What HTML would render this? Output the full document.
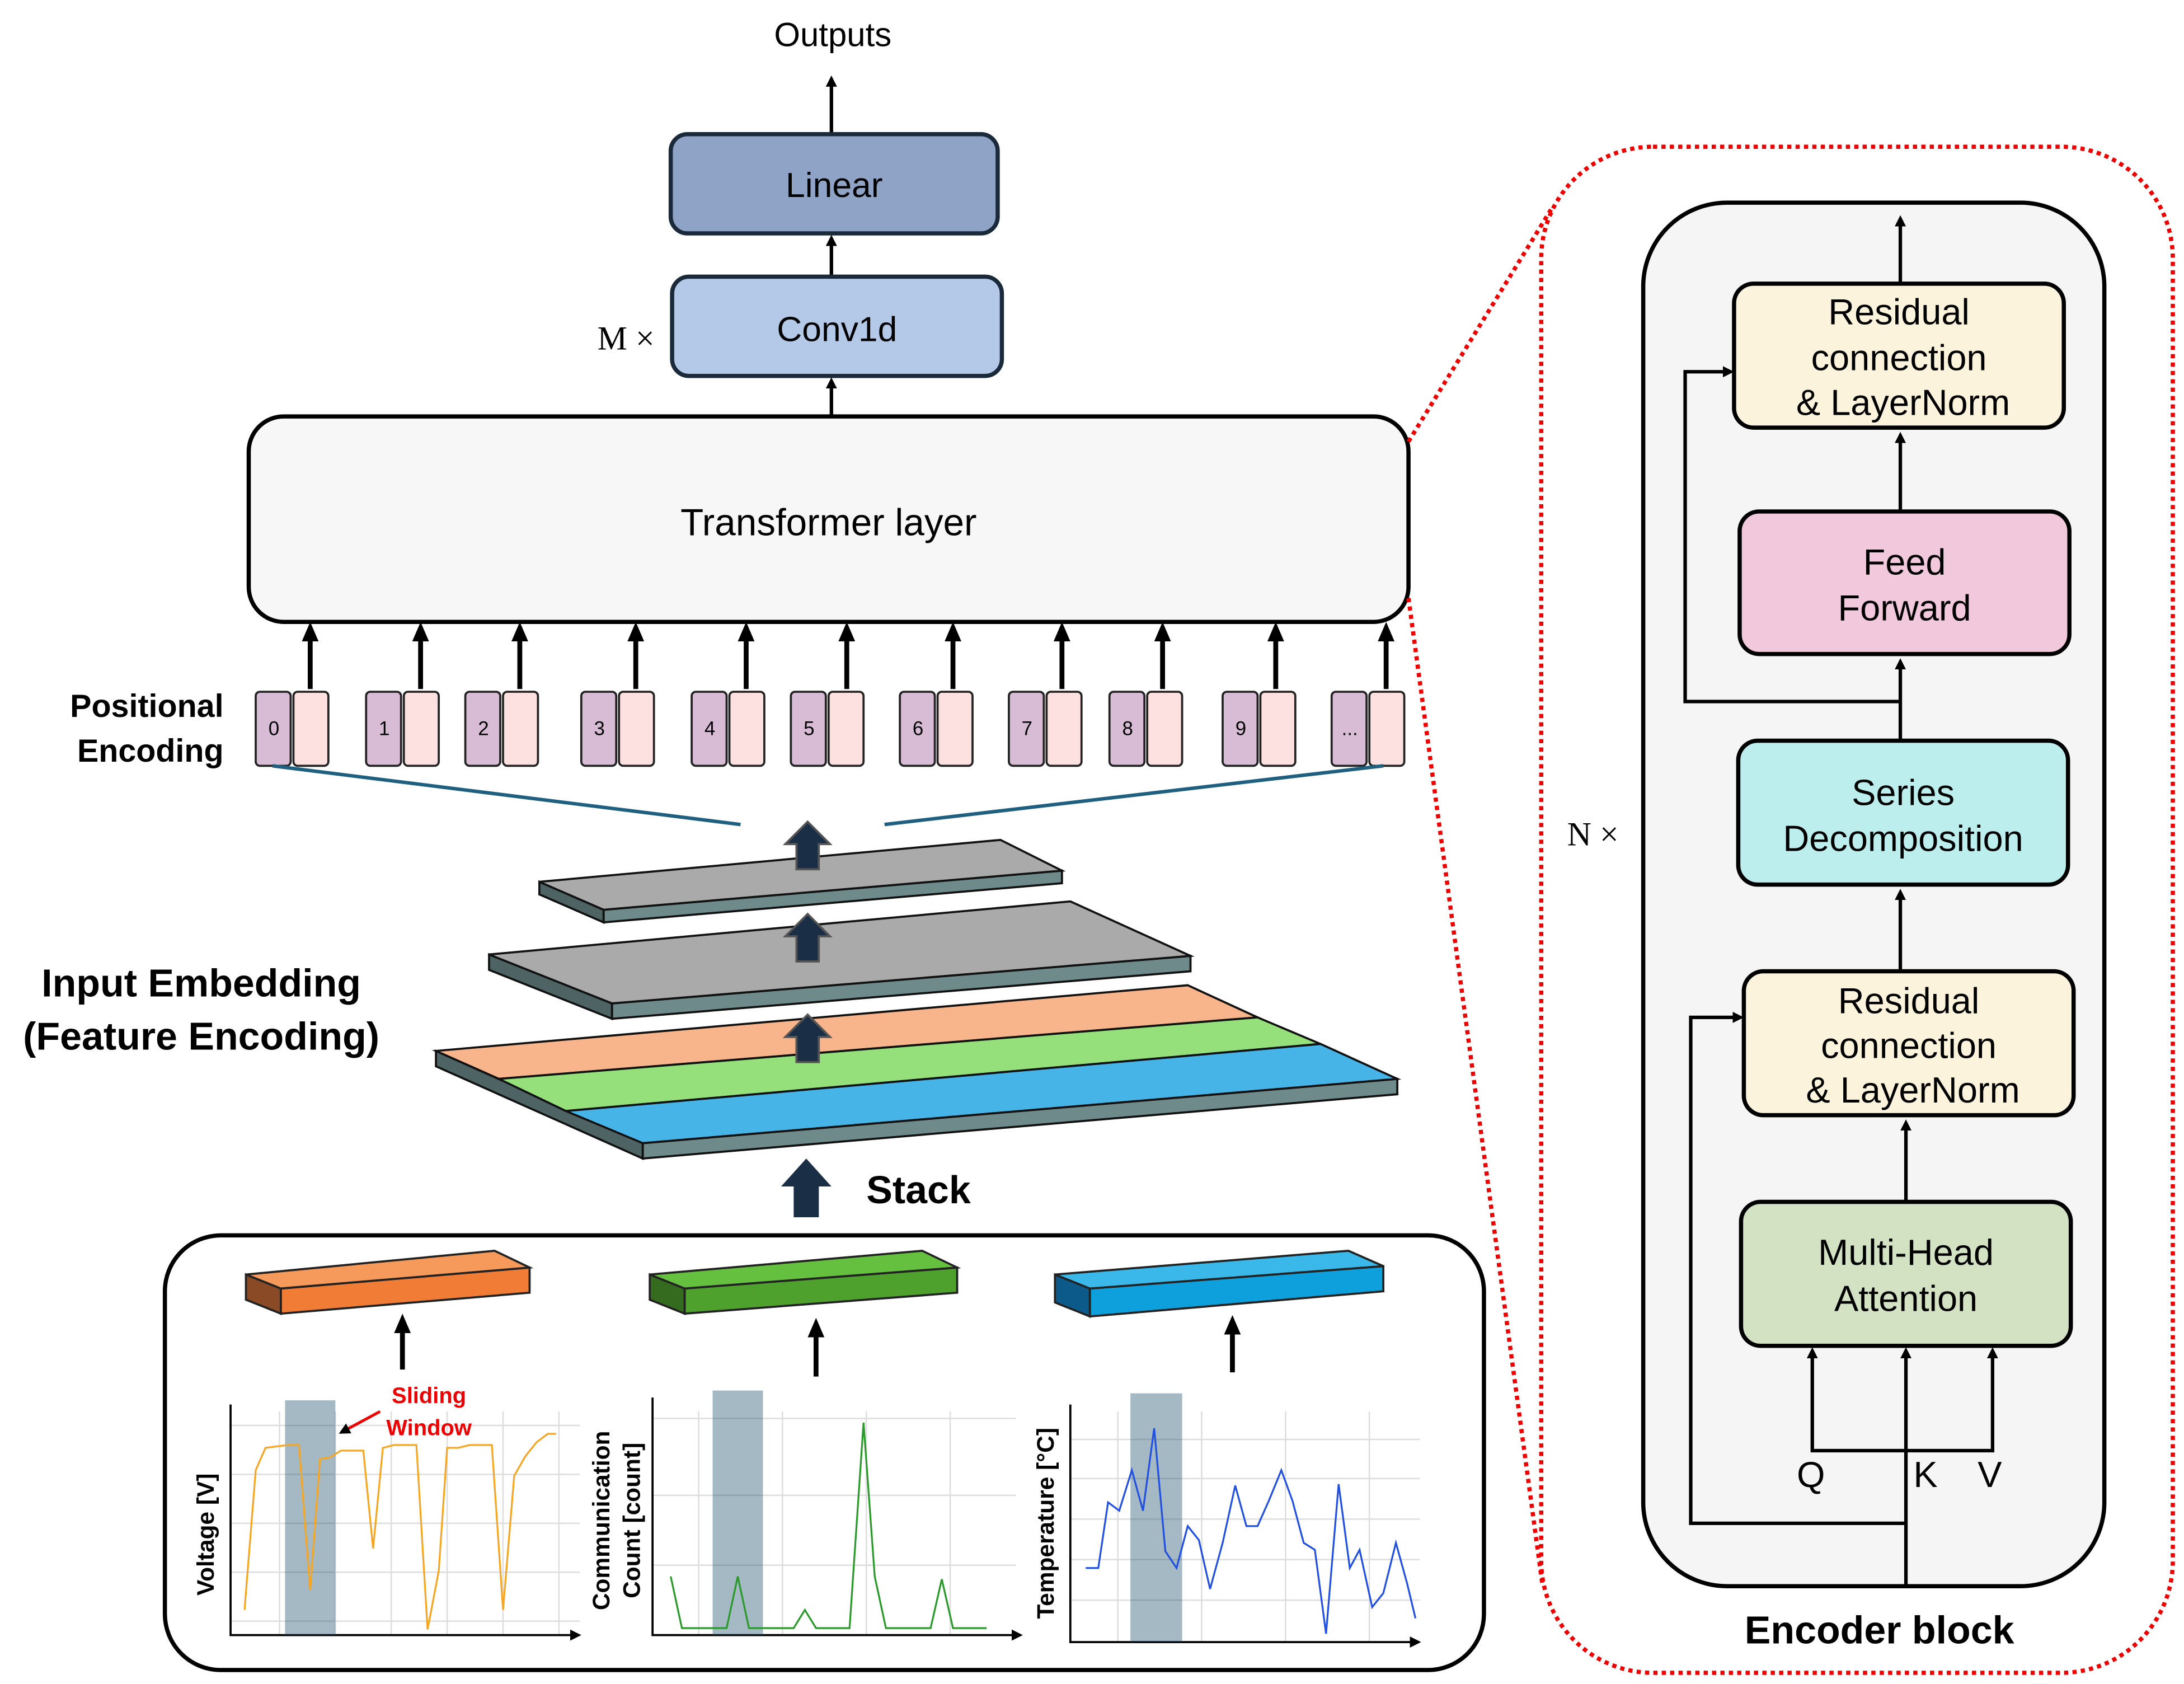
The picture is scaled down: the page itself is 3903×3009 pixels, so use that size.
<!DOCTYPE html>
<html><head><meta charset="utf-8"><style>html,body{margin:0;padding:0;background:#fff}svg{display:block}</style></head>
<body>
<svg width="3903" height="3009" viewBox="0 0 1563 1205" xmlns="http://www.w3.org/2000/svg" font-family="Liberation Sans, DejaVu Sans, sans-serif">
<defs>
<marker id="a" markerWidth="8" markerHeight="8" refX="4" refY="4" orient="auto" markerUnits="userSpaceOnUse"><path d="M0,0 L8,4 L0,8 z" fill="#000"/></marker>
<marker id="b" markerWidth="14" markerHeight="14" refX="7" refY="7" orient="auto" markerUnits="userSpaceOnUse"><path d="M0,1 L14,7 L0,13 z" fill="#000"/></marker>
</defs>
<rect width="1563" height="1205" fill="#fff"/>
<!-- top stack -->
<text x="596" y="33" font-size="24" text-anchor="middle">Outputs</text>
<line x1="595" y1="95" x2="595" y2="58" stroke="#000" stroke-width="2.5" marker-end="url(#a)"/>
<rect x="480" y="96" width="234" height="71" rx="12" fill="#8ea3c6" stroke="#1a2a3a" stroke-width="3"/>
<text x="597" y="141" font-size="25" text-anchor="middle">Linear</text>
<line x1="595" y1="197" x2="595" y2="172" stroke="#000" stroke-width="2.5" marker-end="url(#a)"/>
<rect x="481" y="198" width="236" height="71" rx="12" fill="#b4c8e8" stroke="#1a2a3a" stroke-width="3"/>
<text x="599" y="244" font-size="25" text-anchor="middle">Conv1d</text>
<text x="448" y="250" font-size="24" text-anchor="middle" font-family="Liberation Serif, serif">M ×</text>
<line x1="595" y1="298" x2="595" y2="274" stroke="#000" stroke-width="2.5" marker-end="url(#a)"/>
<rect x="178" y="298" width="830" height="147" rx="25" fill="#f7f7f7" stroke="#000" stroke-width="3"/>
<text x="593" y="383" font-size="27" text-anchor="middle">Transformer layer</text>
<!-- positional -->
<text x="160" y="513" font-size="23" font-weight="bold" text-anchor="end">Positional</text>
<text x="160" y="545" font-size="23" font-weight="bold" text-anchor="end">Encoding</text>
<g stroke="#222" stroke-width="1.5">
<rect x="183" y="495" width="25" height="53" rx="3" fill="#d8bcd6"/><rect x="210" y="495" width="25" height="53" rx="3" fill="#fde0e0"/>
<rect x="262" y="495" width="25" height="53" rx="3" fill="#d8bcd6"/><rect x="289" y="495" width="25" height="53" rx="3" fill="#fde0e0"/>
<rect x="333" y="495" width="25" height="53" rx="3" fill="#d8bcd6"/><rect x="360" y="495" width="25" height="53" rx="3" fill="#fde0e0"/>
<rect x="416" y="495" width="25" height="53" rx="3" fill="#d8bcd6"/><rect x="443" y="495" width="25" height="53" rx="3" fill="#fde0e0"/>
<rect x="495" y="495" width="25" height="53" rx="3" fill="#d8bcd6"/><rect x="522" y="495" width="25" height="53" rx="3" fill="#fde0e0"/>
<rect x="566" y="495" width="25" height="53" rx="3" fill="#d8bcd6"/><rect x="593" y="495" width="25" height="53" rx="3" fill="#fde0e0"/>
<rect x="644" y="495" width="25" height="53" rx="3" fill="#d8bcd6"/><rect x="671" y="495" width="25" height="53" rx="3" fill="#fde0e0"/>
<rect x="722" y="495" width="25" height="53" rx="3" fill="#d8bcd6"/><rect x="749" y="495" width="25" height="53" rx="3" fill="#fde0e0"/>
<rect x="794" y="495" width="25" height="53" rx="3" fill="#d8bcd6"/><rect x="821" y="495" width="25" height="53" rx="3" fill="#fde0e0"/>
<rect x="875" y="495" width="25" height="53" rx="3" fill="#d8bcd6"/><rect x="902" y="495" width="25" height="53" rx="3" fill="#fde0e0"/>
<rect x="953" y="495" width="25" height="53" rx="3" fill="#d8bcd6"/><rect x="980" y="495" width="25" height="53" rx="3" fill="#fde0e0"/>
</g>
<g font-size="14" text-anchor="middle">
<text x="196" y="526">0</text><text x="275" y="526">1</text><text x="346" y="526">2</text><text x="429" y="526">3</text><text x="508" y="526">4</text><text x="579" y="526">5</text><text x="657" y="526">6</text><text x="735" y="526">7</text><text x="807" y="526">8</text><text x="888" y="526">9</text><text x="966" y="526">...</text>
</g>
<g stroke="#000" stroke-width="3.5" marker-end="url(#b)">
<line x1="222" y1="493" x2="222" y2="452"/><line x1="301" y1="493" x2="301" y2="452"/><line x1="372" y1="493" x2="372" y2="452"/><line x1="455" y1="493" x2="455" y2="452"/><line x1="534" y1="493" x2="534" y2="452"/><line x1="606" y1="493" x2="606" y2="452"/><line x1="682" y1="493" x2="682" y2="452"/><line x1="760" y1="493" x2="760" y2="452"/><line x1="832" y1="493" x2="832" y2="452"/><line x1="913" y1="493" x2="913" y2="452"/><line x1="992" y1="493" x2="992" y2="452"/>
</g>
<line x1="195" y1="548" x2="530" y2="590" stroke="#1f5f80" stroke-width="2.5"/>
<line x1="633" y1="590" x2="990" y2="548" stroke="#1f5f80" stroke-width="2.5"/>
<!-- slabs -->
<g stroke="#111" stroke-width="1.5">
<polygon points="386,631 432,651 432,660 386,640" fill="#4e6464"/>
<polygon points="432,651 760,623 760,632 432,660" fill="#6e8a8a"/>
<polygon points="386,631 716,601 760,623 432,651" fill="#aaaaaa"/>
<polygon points="350,683 438,718 438,729 350,694" fill="#4e6464"/>
<polygon points="438,718 852,684 852,695 438,729" fill="#6e8a8a"/>
<polygon points="350,683 766,645 852,684 438,718" fill="#aaaaaa"/>
<polygon points="312,752 460,818 460,829 312,763" fill="#4e6464"/>
<polygon points="460,818 1000,772 1000,783 460,829" fill="#6e8a8a"/>
<polygon points="312,752 850,705 900,728 357,772" fill="#f8b48a"/>
<polygon points="357,772 900,728 945,747 405,795" fill="#95e07a"/>
<polygon points="405,795 945,747 1000,772 460,818" fill="#47b4e8"/>
</g>
<g fill="#1a2e45" stroke="#555" stroke-width="1.5">
<path d="M570,622 v-18 h-8 l16,-16 l16,16 h-8 v18 z"/>
<path d="M570,688 v-18 h-8 l16,-16 l16,16 h-8 v18 z"/>
<path d="M570,760 v-18 h-8 l16,-16 l16,16 h-8 v18 z"/>
</g>
<path d="M568,871 v-22 h-9 l18,-20 l18,20 h-9 v22 z" fill="#1a2e45"/>
<text x="620" y="861" font-size="28" font-weight="bold">Stack</text>
<text x="144" y="713" font-size="28" font-weight="bold" text-anchor="middle">Input Embedding</text>
<text x="144" y="751" font-size="28" font-weight="bold" text-anchor="middle">(Feature Encoding)</text>
<!-- bottom panel -->
<rect x="118" y="884" width="944" height="311" rx="40" fill="#fff" stroke="#000" stroke-width="3"/>
<g stroke="#222" stroke-width="1.5">
<polygon points="176,912 201,922 201,940 176,930" fill="#8a4a25"/><polygon points="201,922 379,907 379,925 201,940" fill="#f07c35"/><polygon points="176,912 354,895 379,907 201,922" fill="#f59a5a"/>
<polygon points="465,912 490,922 490,940 465,930" fill="#356b1f"/><polygon points="490,922 685,907 685,925 490,940" fill="#4ea12c"/><polygon points="465,912 660,895 685,907 490,922" fill="#66c040"/>
<polygon points="755,912 780,922 780,942 755,932" fill="#0c5a8a"/><polygon points="780,922 990,906 990,924 780,942" fill="#0ea0dc"/><polygon points="755,912 965,895 990,906 780,922" fill="#3ab8ea"/>
</g>
<g stroke="#000" stroke-width="3.5" marker-end="url(#b)">
<line x1="288" y1="980" x2="288" y2="947"/><line x1="584" y1="985" x2="584" y2="950"/><line x1="882" y1="982" x2="882" y2="948"/>
</g>
<!-- charts -->
<g stroke="#ddd" stroke-width="1">
<path d="M165,1020h250M165,1055h250M165,1090h250M165,1125h250M165,1160h250M200,1010v160M240,1010v160M280,1010v160M320,1010v160M360,1010v160M400,1010v160"/>
<path d="M467,1015h260M467,1070h260M467,1120h260M500,1010v160M560,1010v160M620,1010v160M680,1010v160"/>
<path d="M766,1030h250M766,1058h250M766,1087h250M766,1116h250M766,1145h250M800,1010v165M860,1010v165M920,1010v165M980,1010v165"/>
</g>
<g stroke="#000" stroke-width="1.5" fill="none">
<path d="M165,1005 V1170 H412" marker-end="url(#a)"/>
<path d="M467,1000 V1170 H728" marker-end="url(#a)"/>
<path d="M766,1005 V1175 H1013" marker-end="url(#a)"/>
</g>
<rect x="204" y="1002" width="36" height="168" fill="#1d4f6e" opacity="0.4"/>
<rect x="510" y="995" width="36" height="175" fill="#1d4f6e" opacity="0.4"/>
<rect x="809" y="997" width="37" height="178" fill="#1d4f6e" opacity="0.4"/>
<polyline fill="none" stroke="#f5a623" stroke-width="1.3" points="175,1152 183,1052 190,1036 198,1035 206,1034 214,1034 222,1138 229,1044 236,1043 244,1038 252,1038 260,1038 267,1108 274,1036 282,1034 290,1034 298,1034 306,1166 314,1124 320,1036 328,1036 336,1034 344,1034 352,1034 360,1152 368,1056 376,1042 384,1032 392,1026 398,1026"/>
<polyline fill="none" stroke="#2a9a2a" stroke-width="1.3" points="480,1128 488,1165 496,1165 504,1165 512,1165 520,1165 528,1128 536,1165 544,1165 552,1165 560,1165 568,1165 576,1152 584,1165 592,1165 600,1165 608,1165 618,1018 626,1128 634,1165 642,1165 650,1165 658,1165 666,1165 674,1130 682,1165 690,1165 698,1165 706,1165"/>
<polyline fill="none" stroke="#2250e0" stroke-width="1.3" points="777,1122 786,1122 793,1075 801,1081 810,1052 818,1081 826,1022 834,1110 842,1122 850,1092 858,1102 866,1137 875,1104 884,1063 892,1092 900,1092 908,1074 917,1052 925,1074 933,1104 941,1109 949,1169 958,1062 966,1122 973,1109 982,1150 990,1140 999,1104 1007,1133 1013,1158"/>
<g font-size="17" font-weight="bold">
<text transform="translate(153,1098) rotate(-90)" text-anchor="middle">Voltage [V]</text>
<text transform="translate(436,1088) rotate(-90)" text-anchor="middle">Communication</text>
<text transform="translate(458,1088) rotate(-90)" text-anchor="middle">Count [count]</text>
<text transform="translate(754,1090) rotate(-90)" text-anchor="middle">Temperature [°C]</text>
</g>
<text x="307" y="1004" font-size="16" font-weight="bold" fill="#e00" text-anchor="middle">Sliding</text>
<text x="307" y="1027" font-size="16" font-weight="bold" fill="#e00" text-anchor="middle">Window</text>
<line x1="272" y1="1010" x2="246" y2="1024" stroke="#e00" stroke-width="2" marker-end="url(#a)"/>
<!-- encoder -->
<rect x="1103" y="105" width="452" height="1092" rx="80" fill="none" stroke="#e00" stroke-width="3" stroke-dasharray="3,3"/>
<line x1="1008" y1="316" x2="1110" y2="150" stroke="#e00" stroke-width="3" stroke-dasharray="3,3"/>
<line x1="1008" y1="428" x2="1104" y2="1135" stroke="#e00" stroke-width="3" stroke-dasharray="3,3"/>
<rect x="1176" y="145" width="330" height="990" rx="60" fill="#f5f5f5" stroke="#000" stroke-width="3"/>
<text x="1140" y="605" font-size="24" text-anchor="middle" font-family="Liberation Serif, serif">N ×</text>
<text x="1345" y="1176" font-size="28" font-weight="bold" text-anchor="middle">Encoder block</text>
<g stroke="#000" stroke-width="3">
<rect x="1241" y="203" width="236" height="103" rx="14" fill="#fbf3dc"/>
<rect x="1245" y="366" width="236" height="102" rx="14" fill="#f2c9dc"/>
<rect x="1244" y="530" width="236" height="103" rx="14" fill="#bdeeee"/>
<rect x="1248" y="695" width="236" height="103" rx="14" fill="#fbf3dc"/>
<rect x="1246" y="860" width="236" height="103" rx="14" fill="#d3e2c3"/>
</g>
<g font-size="26" text-anchor="middle">
<text x="1359" y="232">Residual</text><text x="1359" y="265">connection</text><text x="1362" y="297">&amp; LayerNorm</text>
<text x="1363" y="411">Feed</text><text x="1363" y="444">Forward</text>
<text x="1362" y="576">Series</text><text x="1362" y="609">Decomposition</text>
<text x="1366" y="725">Residual</text><text x="1366" y="757">connection</text><text x="1369" y="789">&amp; LayerNorm</text>
<text x="1364" y="905">Multi-Head</text><text x="1364" y="938">Attention</text>
</g>
<g stroke="#000" stroke-width="2.5" fill="none" marker-end="url(#a)">
<line x1="1360" y1="202" x2="1360" y2="158"/>
<line x1="1360" y1="365" x2="1360" y2="313"/>
<line x1="1360" y1="529" x2="1360" y2="475"/>
<line x1="1360" y1="694" x2="1360" y2="640"/>
<line x1="1364" y1="859" x2="1364" y2="805"/>
<path d="M1360,502 H1206 V266 H1237"/>
<path d="M1364,1090 H1210 V728 H1244"/>
<line x1="1364" y1="1135" x2="1364" y2="968"/>
<path d="M1364,1038 H1297 V968"/>
<path d="M1364,1038 H1426 V968"/>
</g>
<g font-size="26" text-anchor="middle">
<text x="1296" y="1064">Q</text><text x="1378" y="1064">K</text><text x="1424" y="1064">V</text>
</g>
</svg>
</body></html>
